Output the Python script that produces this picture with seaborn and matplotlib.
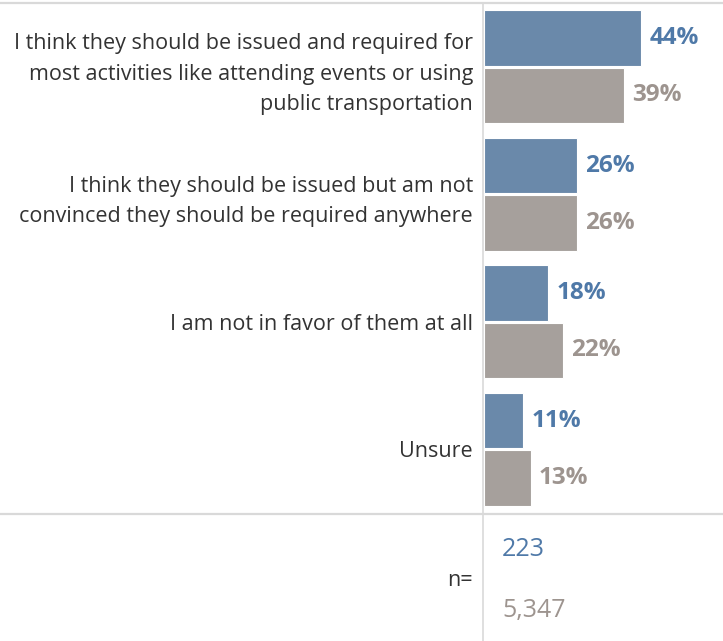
import matplotlib
matplotlib.use("Agg")
import matplotlib.pyplot as plt
from matplotlib.lines import Line2D
import seaborn as sns
import pandas as pd

categories = [
    "I think they should be issued and required for\nmost activities like attending events or using\npublic transportation",
    "I think they should be issued but am not\nconvinced they should be required anywhere",
    "I am not in favor of them at all",
    "Unsure",
]
groups = ["Group A", "Group B"]
group_a = [44, 26, 18, 11]
group_b = [39, 26, 22, 13]
n_values = ["223", "5,347"]

bar_colors = ["#6089b4", "#a79f9b"]
text_colors = ["#4f79a8", "#9d948f"]
line_color = "#d9d9d9"

df = pd.DataFrame({
    "category": categories * 2,
    "group": [groups[0]] * 4 + [groups[1]] * 4,
    "value": group_a + group_b,
})

sns.set_style("white")
plt.rcParams["font.family"] = ["Open Sans", "DejaVu Sans"]

W, H = 723, 641
fig = plt.figure(figsize=(W / 100, H / 100), dpi=100)

left_px, top_px, bottom_px = 484, 3, 513
ax = fig.add_axes([left_px / W, 1 - bottom_px / H, (W - left_px) / W, (bottom_px - top_px) / H])

sns.barplot(data=df, y="category", x="value", hue="group", palette=bar_colors,
            orient="h", width=0.9, gap=0.03, legend=False, ax=ax,
            edgecolor="white", linewidth=0.8)

for cont, col in zip(ax.containers, text_colors):
    ax.bar_label(cont, labels=[f"{v:g}%" for v in cont.datavalues], padding=6,
                 color=col, fontsize=17.5, fontweight="bold")

ax.set_xlim(0, 66.8)
ax.set_ylim(3.5, -0.5)
ax.set_xlabel("")
ax.set_ylabel("")
ax.set_xticks([])
ax.tick_params(axis="y", length=0, pad=8, labelsize=15.5, labelcolor="#333333")
for lab in ax.get_yticklabels():
    lab.set_linespacing(1.6)
for s in ax.spines.values():
    s.set_visible(False)

# frame lines
fig.add_artist(Line2D([0, 1], [1 - 3 / H, 1 - 3 / H], color=line_color, lw=1.6))
fig.add_artist(Line2D([0, 1], [1 - 514 / H, 1 - 514 / H], color=line_color, lw=1.6))
fig.add_artist(Line2D([483 / W, 483 / W], [0, 1 - 3 / H], color=line_color, lw=1.2))

# n row
fig.text(473 / W, 1 - 580 / H, "n=", ha="right", va="center", fontsize=15.5, color="#333333")
fig.text(502 / W, 1 - 550 / H, n_values[0], ha="left", va="center", fontsize=18, color=text_colors[0])
fig.text(502 / W, 1 - 610 / H, n_values[1], ha="left", va="center", fontsize=18, color=text_colors[1])

fig.savefig("out.png", dpi=100, facecolor="white")
